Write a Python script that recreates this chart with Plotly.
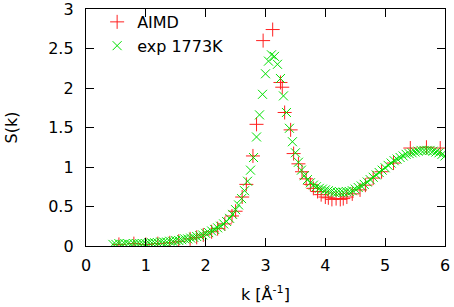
import plotly.graph_objects as go

# AIMD S(k)
aimd_k = [0.55, 0.80, 1.00, 1.20, 1.40, 1.55, 1.74, 1.85, 1.96, 2.10, 2.20, 2.32, 2.44,
          2.50, 2.61, 2.68, 2.79, 2.85, 2.96, 3.12, 3.25, 3.28, 3.32, 3.42, 3.47, 3.55,
          3.61, 3.68, 3.75, 3.80, 3.87, 3.93, 4.00, 4.05, 4.11, 4.18, 4.25, 4.30, 4.36,
          4.45, 4.58, 4.67, 4.80, 4.94, 5.14, 5.42, 5.69, 5.92]
aimd_s = [0.02, 0.03, 0.02, 0.03, 0.04, 0.06, 0.09, 0.11, 0.14, 0.18, 0.22, 0.28, 0.38,
          0.44, 0.62, 0.78, 1.14, 1.54, 2.60, 2.74, 2.07, 2.01, 1.69, 1.47, 1.17, 1.04,
          0.94, 0.85, 0.78, 0.73, 0.69, 0.65, 0.62, 0.61, 0.59, 0.60, 0.59, 0.60, 0.62,
          0.66, 0.71, 0.77, 0.86, 0.94, 1.05, 1.24, 1.25, 1.24]

# Experiment 1773K
exp_k = [0.45, 0.50, 0.55, 0.60, 0.65, 0.70, 0.75, 0.80, 0.85, 0.90, 0.95, 1.00,
         1.05, 1.10, 1.15, 1.20, 1.25, 1.30, 1.35, 1.40, 1.45, 1.50, 1.55, 1.60,
         1.65, 1.70, 1.75, 1.80, 1.85, 1.90, 1.95, 2.00, 2.05, 2.10, 2.15, 2.20,
         2.25, 2.30, 2.35, 2.40, 2.45, 2.50, 2.55, 2.60, 2.65, 2.70, 2.75, 2.80,
         2.85, 2.90, 2.95, 3.00, 3.05, 3.10, 3.15, 3.20, 3.25, 3.30, 3.35, 3.40,
         3.45, 3.50, 3.55, 3.60, 3.65, 3.70, 3.75, 3.80, 3.85, 3.90, 3.95, 4.00,
         4.05, 4.10, 4.15, 4.20, 4.25, 4.30, 4.35, 4.40, 4.45, 4.50, 4.55, 4.60,
         4.65, 4.70, 4.75, 4.80, 4.85, 4.90, 4.95, 5.00, 5.05, 5.10, 5.15, 5.20,
         5.25, 5.30, 5.35, 5.40, 5.45, 5.50, 5.55, 5.60, 5.65, 5.70, 5.75, 5.80,
         5.85, 5.90, 5.95, 6.00]
exp_s = [0.02, 0.02, 0.03, 0.02, 0.03, 0.03, 0.02, 0.03, 0.03, 0.03, 0.03, 0.03,
         0.04, 0.04, 0.04, 0.04, 0.05, 0.05, 0.05, 0.06, 0.06, 0.07, 0.07, 0.08,
         0.09, 0.09, 0.10, 0.11, 0.12, 0.13, 0.14, 0.16, 0.17, 0.19, 0.21, 0.23,
         0.25, 0.28, 0.31, 0.35, 0.40, 0.46, 0.52, 0.60, 0.70, 0.82, 0.96, 1.12,
         1.38, 1.66, 1.92, 2.18, 2.34, 2.42, 2.40, 2.30, 2.12, 1.90, 1.69, 1.49,
         1.32, 1.18, 1.06, 0.96, 0.89, 0.84, 0.80, 0.77, 0.75, 0.73, 0.72, 0.71,
         0.70, 0.69, 0.68, 0.68, 0.68, 0.68, 0.69, 0.69, 0.70, 0.72, 0.74, 0.76,
         0.78, 0.81, 0.84, 0.87, 0.90, 0.93, 0.96, 0.99, 1.02, 1.05, 1.08, 1.10,
         1.12, 1.14, 1.16, 1.17, 1.18, 1.19, 1.20, 1.21, 1.21, 1.21, 1.21, 1.20,
         1.19, 1.18, 1.16, 1.14]

x_ticks = [0, 1, 2, 3, 4, 5, 6]
y_ticks = [0, 0.5, 1, 1.5, 2, 2.5, 3]
y_tick_text = ["0", "0.5", "1", "1.5", "2", "2.5", "3"]

FONT = "DejaVu Sans, Liberation Sans, sans-serif"
FS = 16

fig = go.Figure()
fig.add_trace(go.Scatter(
    x=aimd_k, y=aimd_s, mode="markers", name="AIMD",
    marker=dict(symbol="cross-thin", size=10, line=dict(color="#ff2020", width=1)),
))
fig.add_trace(go.Scatter(
    x=exp_k, y=exp_s, mode="markers", name="exp 1773K",
    marker=dict(symbol="x-thin", size=9, line=dict(color="#00e000", width=1)),
))

axis_common = dict(
    showgrid=False, zeroline=False, showline=True, linecolor="black", linewidth=1.3,
    mirror="ticks", ticks="inside", ticklen=8, tickwidth=1.3, tickcolor="black",
    tickfont=dict(family=FONT, size=FS, color="black"), automargin=False,
    ticklabeloverflow="allow",
)

fig.update_layout(
    width=454, height=307,
    margin=dict(l=86, r=9, t=9, b=61, autoexpand=False),
    paper_bgcolor="white", plot_bgcolor="white",
    font=dict(family=FONT, size=FS, color="black"),
    showlegend=True,
    legend=dict(x=0.031, y=1.017, xanchor="left", yanchor="top",
                bgcolor="rgba(0,0,0,0)", font=dict(family=FONT, size=FS),
                itemwidth=30, tracegroupgap=0),
    xaxis=dict(range=[0, 6], tickvals=x_ticks, ticklabelstandoff=5, **axis_common),
    yaxis=dict(range=[0, 3], tickvals=y_ticks, ticktext=y_tick_text, ticklabelstandoff=8,
               **axis_common),
    annotations=[
        dict(text="k [Å<sup>-1</sup>]", xref="paper", yref="paper", x=0.5, y=0,
             xanchor="center", yanchor="middle", yshift=-47, showarrow=False,
             font=dict(family=FONT, size=FS)),
        dict(text="S(k)", xref="paper", yref="paper", x=0, y=0.5, textangle=-90,
             xanchor="center", yanchor="middle", xshift=-75, showarrow=False,
             font=dict(family=FONT, size=FS)),
    ],
)

fig.write_html("out.html", config={"displayModeBar": False},
               post_script="document.body.style.margin='0';document.body.style.overflow='hidden';")
